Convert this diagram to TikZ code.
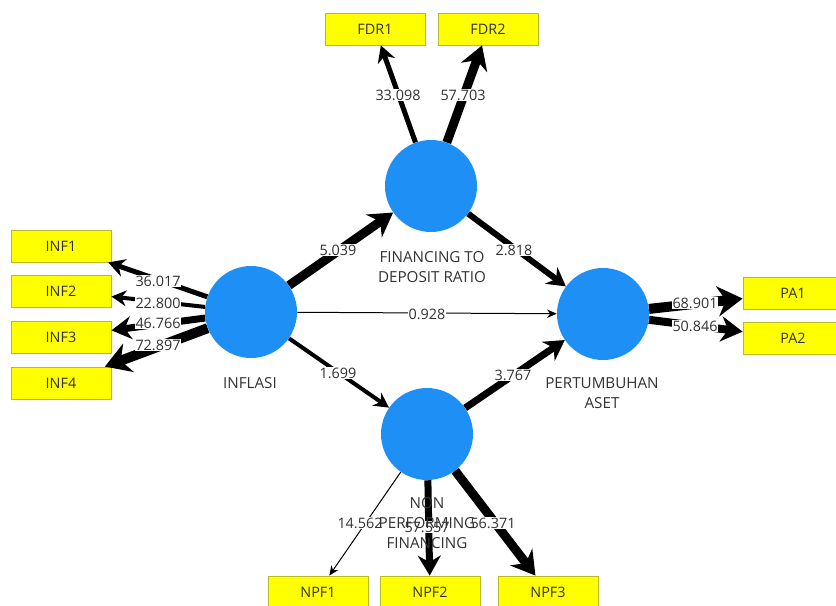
\documentclass[tikz,border=0pt]{standalone}
\usepackage{fontspec}
\setmainfont{Open Sans}
\usetikzlibrary{arrows.meta}
\definecolor{lvblue}{RGB}{30,144,245}
\definecolor{mvyellow}{RGB}{255,255,0}
\definecolor{mvborder}{RGB}{185,185,40}
\definecolor{txtgray}{RGB}{50,50,50}
\begin{document}
\begin{tikzpicture}[x=0.75pt,y=-0.75pt,
  lv/.style={circle, fill=lvblue, minimum size=69pt, inner sep=0pt},
  mv/.style={draw=mvborder, line width=0.6pt, fill=mvyellow, minimum width=75pt, minimum height=24pt, inner sep=0pt, font=\fontsize{10.8}{12}\selectfont, text=txtgray},
  con/.style={draw=black, line width=#1, -{Stealth[length=6pt 1.7, width=4.5pt 2.4]}},
  wt/.style={fill=white, inner sep=0.6pt, font=\fontsize{10.8}{12}\selectfont, text=txtgray},
  lvname/.style={font=\fontsize{11.4}{15}\selectfont, text=txtgray, align=center, inner sep=0pt}]
\useasboundingbox (0,0) rectangle (836,606);
% latent variables
\node[lv] (inf) at (251,312) {};
\node[lv] (fdr) at (431,186) {};
\node[lv] (pa)  at (603,314) {};
\node[lv] (npf) at (427,434) {};
% indicators
\node[mv] (fdr1) at (375,29) {FDR1};
\node[mv] (fdr2) at (488,29) {FDR2};
\node[mv] (inf1) at (61,246) {INF1};
\node[mv] (inf2) at (61,291) {INF2};
\node[mv] (inf3) at (61,337) {INF3};
\node[mv] (inf4) at (61,383) {INF4};
\node[mv] (pa1) at (793,293) {PA1};
\node[mv] (pa2) at (793,338) {PA2};
\node[mv] (npf1) at (318,592) {NPF1};
\node[mv] (npf2) at (430,592) {NPF2};
\node[mv] (npf3) at (548,592) {NPF3};
% connectors
\draw[con=6.75pt] (inf) -- (fdr);
\draw[con=4.5pt] (fdr) -- (pa);
\draw[con=0.75pt] (inf) -- (pa);
\draw[con=3pt] (inf) -- (npf);
\draw[con=5.25pt] (npf) -- (pa);
\draw[con=3.75pt] (fdr) -- (fdr1);
\draw[con=6.75pt] (fdr) -- (fdr2);
\draw[con=3.75pt] (inf) -- (inf1);
\draw[con=3pt] (inf) -- (inf2);
\draw[con=5.25pt] (inf) -- (inf3);
\draw[con=7.5pt] (inf) -- (inf4);
\draw[con=7.5pt] (pa) -- (pa1);
\draw[con=6pt] (pa) -- (pa2);
\draw[con=0.75pt] (npf) -- (npf1);
\draw[con=5.25pt] (npf) -- (npf2);
\draw[con=6.75pt] (npf) -- (npf3);
% weights
\node[wt] (w1) at (338,250) {5.039};
\node[wt] (w2) at (514,250) {2.818};
\node[wt] (w3) at (427,314) {0.928};
\node[wt] (w4) at (338,373) {1.699};
\node[wt] (w5) at (513,375) {3.767};
\node[wt] (w6) at (398,95) {33.098};
\node[wt] (w7) at (463,95) {57.703};
\node[wt] (w8) at (158,281) {36.017};
\node[wt] (w9) at (158,303) {22.800};
\node[wt] (w10) at (158,323) {46.766};
\node[wt] (w11) at (158,345) {72.897};
\node[wt] (w12) at (695,303) {68.901};
\node[wt] (w13) at (695,326) {50.846};
\node[wt] (w14) at (360,523) {14.562};
\node[wt] (w15) at (427,527) {57.557};
\node[wt] (w16) at (493,523) {56.371};
% construct names
\node[lvname] (n1) at (250,383) {INFLASI};
\node[lvname] (n2) at (432,267) {FINANCING TO\\DEPOSIT RATIO};
\node[lvname] (n3) at (602,393) {PERTUMBUHAN\\ASET};
\node[lvname] (n4) at (427,523) {NON\\PERFORMING\\FINANCING};
\end{tikzpicture}
\end{document}
